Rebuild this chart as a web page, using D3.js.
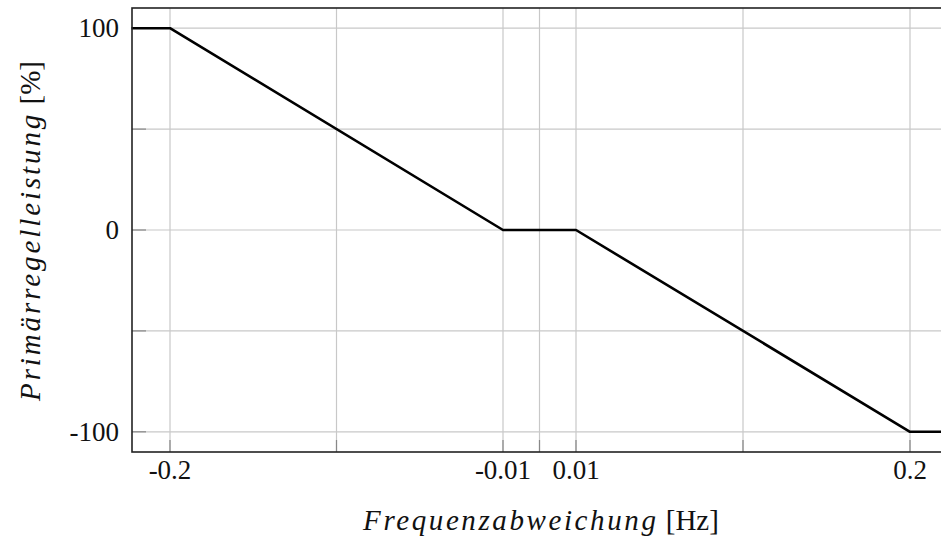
<!DOCTYPE html>
<html>
<head>
<meta charset="utf-8">
<script src="https://cdn.jsdelivr.net/npm/d3@7/dist/d3.min.js"></script>
<style>
  html, body { margin: 0; padding: 0; background: #fff; }
  svg { display: block; }
  text { font-family: "Liberation Serif", "DejaVu Serif", serif; fill: #111; }
</style>
</head>
<body>
<svg id="chart" width="941" height="537"></svg>
<script>
// Droop characteristic: primary control power vs. frequency deviation
const xBreaks = [-0.2, -0.01, 0.01, 0.2];          // kinks of the characteristic [Hz]
const lineX = [-0.222, -0.2, -0.01, 0.01, 0.2, 0.222];
const lineY = [100, 100, 0, 0, -100, -100];         // power [%]
const xGrid = [-0.2, -0.105, -0.01, 0, 0.01, 0.105, 0.2];
const xTickLabels = [-0.2, -0.01, 0.01, 0.2];
const yGrid = [-100, -50, 0, 50, 100];
const yTickLabels = [-100, 0, 100];
const yExtent = [-110, 110];

const svg = d3.select("#chart");
const plot = { left: 132, top: 8, right: 948, bottom: 452 };
const W = plot.right - plot.left;

// piecewise axis: the dead band around zero is stretched
const breakFrac = [38 / 816, 371 / 816, 444 / 816, 778 / 816];
const x = d3.scaleLinear()
  .domain(xBreaks)
  .range(breakFrac.map(f => plot.left + f * W));
const y = d3.scaleLinear().domain(yExtent).range([plot.bottom, plot.top]);

const g = svg.append("g");

// grid
g.selectAll("line.gx").data(xGrid).join("line")
  .attr("x1", d => x(d)).attr("x2", d => x(d))
  .attr("y1", plot.top).attr("y2", plot.bottom)
  .attr("stroke", "#c8c8c8").attr("stroke-width", 1.2);
g.selectAll("line.gy").data(yGrid).join("line")
  .attr("y1", d => y(d)).attr("y2", d => y(d))
  .attr("x1", plot.left).attr("x2", plot.right)
  .attr("stroke", "#c8c8c8").attr("stroke-width", 1.2);

// inner tick marks
g.selectAll("line.tx").data(xGrid).join("line")
  .attr("x1", d => x(d)).attr("x2", d => x(d))
  .attr("y1", plot.bottom).attr("y2", plot.bottom - 12)
  .attr("stroke", "#888").attr("stroke-width", 1.2);
g.selectAll("line.ty").data(yGrid).join("line")
  .attr("y1", d => y(d)).attr("y2", d => y(d))
  .attr("x1", plot.left).attr("x2", plot.left + 14)
  .attr("stroke", "#888").attr("stroke-width", 1.2);

// characteristic curve
const line = d3.line().x(d => x(d[0])).y(d => y(d[1]));
g.append("path")
  .datum(lineX.map((v, i) => [v, lineY[i]]))
  .attr("d", line)
  .attr("fill", "none").attr("stroke", "#000").attr("stroke-width", 2.6)
  .attr("stroke-linejoin", "round");

// frame
g.append("rect")
  .attr("x", plot.left).attr("y", plot.top)
  .attr("width", W).attr("height", plot.bottom - plot.top)
  .attr("fill", "none").attr("stroke", "#222").attr("stroke-width", 1.6);

// tick labels
const fmt = d => (d < 0 ? "-" : "") + String(Math.abs(d));
g.selectAll("text.xl").data(xTickLabels).join("text")
  .attr("x", d => x(d)).attr("y", 479)
  .attr("text-anchor", "middle").attr("font-size", 27)
  .text(d => fmt(d));
g.selectAll("text.yl").data(yTickLabels).join("text")
  .attr("x", 119).attr("y", d => y(d) + 9)
  .attr("text-anchor", "end").attr("font-size", 27)
  .text(d => fmt(d));

// axis titles (math-italic name, upright unit)
const xt = g.append("text")
  .attr("x", 541).attr("y", 530)
  .attr("text-anchor", "middle").attr("font-size", 29);
xt.append("tspan").attr("font-style", "italic").attr("letter-spacing", 2.6).text("Frequenzabweichung");
xt.append("tspan").text(" [Hz]");

const yt = g.append("text")
  .attr("transform", "translate(40,231) rotate(-90)")
  .attr("text-anchor", "middle").attr("font-size", 29);
yt.append("tspan").attr("font-style", "italic").attr("letter-spacing", 2.9).text("Primärregelleistung");
yt.append("tspan").text(" [%]");
</script>
</body>
</html>
